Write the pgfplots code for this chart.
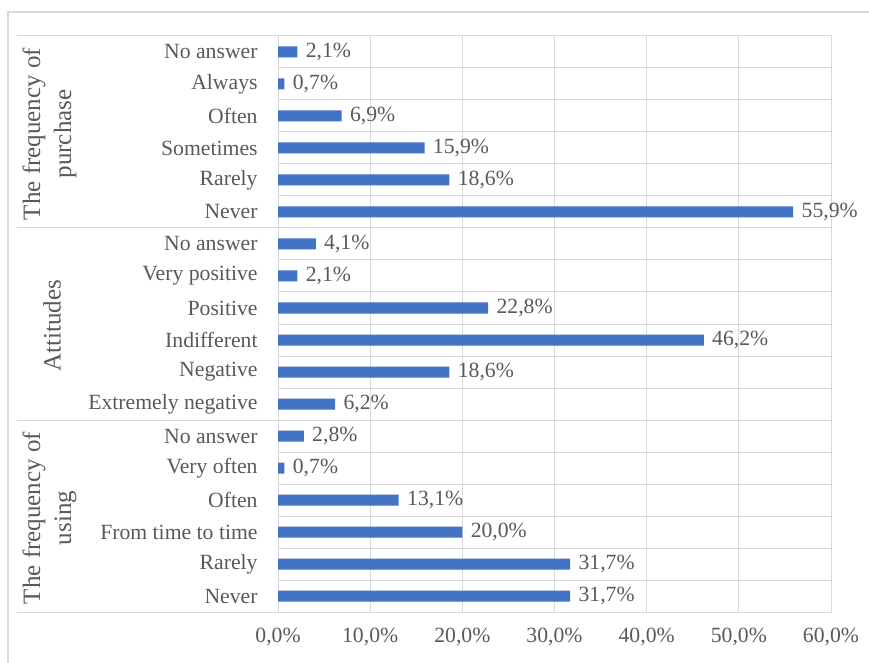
\documentclass[border=0pt]{standalone}
\usepackage{fontspec}
\setmainfont{Liberation Serif}
\usepackage{pgfplots}
\pgfplotsset{compat=1.18}
\definecolor{barblue}{HTML}{4472C4}
\definecolor{gridgray}{HTML}{D9D9D9}
\definecolor{txtgray}{HTML}{595959}
\begin{document}
\fontsize{21.7}{26}\selectfont
\begin{tikzpicture}
\useasboundingbox (0,0) rectangle (869pt,662pt);
\draw[gridgray, line width=1.2pt] (8pt,-20pt) -- (8pt,650pt) -- (900pt,650pt);
\begin{axis}[
  at={(278pt,50pt)}, anchor=south west,
  scale only axis, width=553pt, height=576pt,
  xmin=0, xmax=60, ymin=-0.5, ymax=17.5,
  xtick={0,10,...,60},
  ytick={0,...,17},
  yticklabels={Never,Rarely,From time to time,Often,Very often,No answer,Extremely negative,Negative,Indifferent,Positive,Very positive,No answer,Never,Rarely,Sometimes,Often,Always,No answer},
  minor ytick={0.5,1.5,...,16.5},
  xmajorgrids, yminorgrids,
  grid style={gridgray, line width=1pt},
  minor grid style={gridgray, line width=1pt},
  axis line style={gridgray, line width=1pt},
  major tick length=0pt, minor tick length=0pt,
  tick label style={text=txtgray, font=\fontsize{21.7}{26}\selectfont},
  xticklabel={\pgfmathprintnumber[fixed,fixed zerofill,precision=1,use comma,assume math mode=true]{\tick}\%},
  xticklabel style={yshift=-9pt},
  yticklabel style={anchor=east, xshift=-13pt},
  clip=false,
]
\addplot[xbar, bar width=11pt, fill=barblue, draw=none,
  point meta=x,
  nodes near coords={\pgfmathprintnumber[fixed,fixed zerofill,precision=1,use comma,assume math mode=true]{\pgfplotspointmeta}\%},
  nodes near coords style={text=txtgray, font=\fontsize{21.7}{26}\selectfont, anchor=west, xshift=1pt},
] table {
x y
31.7 0
31.7 1
20.0 2
13.1 3
0.7 4
2.8 5
6.2 6
18.6 7
46.2 8
22.8 9
2.1 10
4.1 11
55.9 12
18.6 13
15.9 14
6.9 15
0.7 16
2.1 17
};
\draw[gridgray, line width=1pt] ([xshift=-261pt]axis cs:0,-0.5) -- (axis cs:0,-0.5);
\draw[gridgray, line width=1pt] ([xshift=-261pt]axis cs:0,5.5) -- (axis cs:0,5.5);
\draw[gridgray, line width=1pt] ([xshift=-261pt]axis cs:0,11.5) -- (axis cs:0,11.5);
\draw[gridgray, line width=1pt] ([xshift=-261pt]axis cs:0,17.5) -- (axis cs:0,17.5);
\node[rotate=90, align=center, text=txtgray, font=\fontsize{25}{31}\selectfont] at ([xshift=-228.5pt,yshift=-2pt]axis cs:0,14.5) {The frequency of\\purchase};
\node[rotate=90, align=center, text=txtgray, font=\fontsize{25}{31}\selectfont] at ([xshift=-226pt,yshift=-2pt]axis cs:0,8.5) {Attitudes};
\node[rotate=90, align=center, text=txtgray, font=\fontsize{25}{31}\selectfont] at ([xshift=-228.5pt,yshift=-2pt]axis cs:0,2.5) {The frequency of\\using};
\end{axis}
\end{tikzpicture}
\end{document}
